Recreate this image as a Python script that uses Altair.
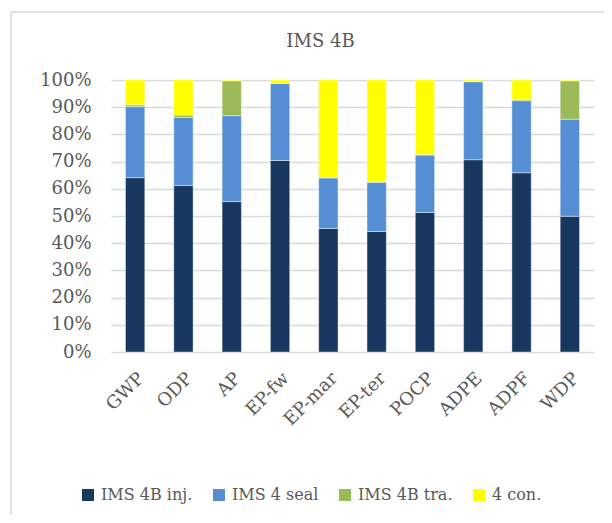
import altair as alt
import pandas as pd

categories = ["GWP", "ODP", "AP", "EP-fw", "EP-mar", "EP-ter", "POCP", "ADPE", "ADPF", "WDP"]
series_names = ["IMS 4B inj.", "IMS 4 seal", "IMS 4B tra.", "4 con."]
inj = [64.1, 61.2, 55.3, 70.4, 45.4, 44.3, 51.3, 70.7, 65.9, 49.9]
seal = [26.1, 25.0, 31.6, 28.4, 18.6, 18.1, 21.1, 28.7, 26.5, 35.7]
tra = [0.7, 0.9, 12.8, 0.0, 0.2, 0.2, 0.2, 0.0, 0.5, 14.1]
con = [9.1, 12.9, 0.3, 1.2, 35.8, 37.4, 27.4, 0.6, 7.1, 0.3]
colors = ["#17375E", "#558ED5", "#9BBB59", "#FFFF00"]

rows = []
for s_i, (name, vals) in enumerate(zip(series_names, [inj, seal, tra, con])):
    for c, v in zip(categories, vals):
        rows.append({"cat": c, "series": name, "value": v / 100.0, "ord": s_i})
df = pd.DataFrame(rows)

TEXT = "#595959"
FONT = "DejaVu Serif"

bars = alt.Chart(df).mark_bar(stroke="white", strokeWidth=0.6, strokeOpacity=0.7).encode(
    x=alt.X("cat:N", sort=categories, title=None,
            scale=alt.Scale(paddingInner=0.6, paddingOuter=0.3),
            axis=alt.Axis(labelAngle=-45, labelFontSize=18, labelColor=TEXT, labelFont=FONT,
                          labelPadding=17, labelOffset=0, ticks=False, domain=False)),
    y=alt.Y("value:Q", stack="zero", title=None,
            scale=alt.Scale(domain=[0, 1]),
            axis=alt.Axis(format=".0%", values=[i / 10 for i in range(11)],
                          labelFontSize=18, labelColor=TEXT, labelFont=FONT, labelPadding=20,
                          ticks=False, domain=False, gridColor="#d9d9d9", gridWidth=1.5)),
    color=alt.Color("series:N", sort=series_names,
                    scale=alt.Scale(domain=series_names, range=colors),
                    legend=alt.Legend(title=None, orient="none", legendX=-31, legendY=407,
                                      direction="horizontal", columns=4, symbolType="square",
                                      symbolSize=144, symbolStrokeWidth=0, labelFontSize=16,
                                      labelFont=FONT, labelColor=TEXT, columnPadding=18,
                                      labelOffset=5, padding=0)),
    order=alt.Order("ord:Q", sort="ascending"),
)

frame_df = pd.DataFrame({"a": [0]})
left_edge = alt.Chart(frame_df).mark_rule(color="#d9d9d9", strokeWidth=1.5).encode(
    x=alt.value(-100), y=alt.value(-68), y2=alt.value(460))
top_edge = alt.Chart(frame_df).mark_rule(color="#d9d9d9", strokeWidth=1.5).encode(
    x=alt.value(-100), x2=alt.value(600), y=alt.value(-68))

chart = alt.layer(left_edge, top_edge, bars).properties(
    width=483, height=272,
    title=alt.TitleParams("IMS 4B", fontSize=18, font=FONT, color=TEXT, fontWeight="normal",
                          anchor="middle", dx=-32, dy=40, offset=0),
    autosize="none",
    padding={"left": 103, "top": 72, "right": 10, "bottom": 163},
).configure_view(stroke=None)

chart.save("out.html", embed_options={"renderer": "svg", "actions": False})
